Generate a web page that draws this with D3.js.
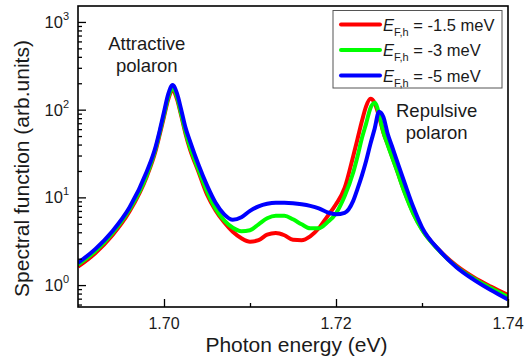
<!DOCTYPE html>
<html>
<head>
<meta charset="utf-8">
<script src="https://cdn.jsdelivr.net/npm/d3@7"></script>
<style>
	body { margin: 0; background: #fff; }
	text { font-family: "Liberation Sans", Arial, sans-serif; fill: #1a1a1a; }
</style>
</head>
<body>
<div id="svg-div"></div>
<script>
// photon energy grid (eV)
var energy = [1.690, 1.692, 1.694, 1.696, 1.698, 1.699, 1.6995, 1.700, 1.7005, 1.701,
	1.7015, 1.702, 1.7025, 1.703, 1.704, 1.705, 1.706, 1.707, 1.708, 1.709,
	1.710, 1.711, 1.712, 1.713, 1.714, 1.715, 1.716, 1.717, 1.718, 1.719,
	1.720, 1.721, 1.722, 1.7225, 1.723, 1.7235, 1.724, 1.7245, 1.725, 1.7255,
	1.726, 1.7265, 1.727, 1.728, 1.729, 1.730, 1.732, 1.734, 1.736, 1.738, 1.740];

// spectral function (arb. units), E_F,h = -1.5 meV
var specRed = [1.62, 2.31, 3.70, 6.93, 17.3, 33.3, 52.0, 83.2, 132, 164,
	133, 85.5, 53.3, 36.0, 19.7, 10.8, 7.11, 5.20, 4.05, 3.42,
	3.12, 3.25, 3.75, 3.92, 3.70, 3.29, 3.25, 3.60, 4.44, 6.08,
	8.33, 12.8, 29.5, 46.2, 73.1, 109, 133, 119, 83.9, 55.2,
	40.5, 29.6, 21.6, 11.4, 6.58, 4.33, 2.50, 1.67, 1.23, 0.962, 0.770];

// E_F,h = -3 meV
var specGreen = [1.71, 2.43, 3.90, 7.31, 18.0, 35.1, 54.8, 87.7, 139, 173,
	141, 88.9, 56.2, 38.0, 20.8, 11.7, 7.40, 5.48, 4.50, 4.11,
	4.22, 4.93, 5.77, 6.17, 6.17, 5.62, 4.93, 4.44, 4.44, 5.20,
	6.58, 10.3, 19.2, 29.2, 46.8, 69.3, 104, 120, 90.1, 56.2,
	40.0, 29.2, 21.4, 11.2, 6.49, 4.27, 2.47, 1.62, 1.19, 0.924, 0.731];

// E_F,h = -5 meV
var specBlue = [1.79, 2.57, 4.11, 7.70, 19.7, 37.0, 57.7, 94.0, 151, 191,
	154, 100, 62.4, 44.4, 23.7, 13.7, 8.68, 6.41, 5.55, 5.93,
	7.02, 7.90, 8.44, 8.66, 8.66, 8.55, 8.33, 8.00, 7.50, 6.76,
	6.41, 6.67, 9.12, 12.5, 17.6, 26.0, 40.6, 61.0, 94.9, 83.2,
	53.4, 38.5, 27.7, 14.4, 7.70, 4.56, 2.50, 1.60, 1.155, 0.877, 0.684];

var seriesNames = ["-1.5 meV", "-3 meV", "-5 meV"];
var seriesColors = ["#ff0000", "#00ff00", "#0000ff"];
var seriesValues = [specRed, specGreen, specBlue];

var xTickLabels = ["1.70", "1.72", "1.74"];
var xMajorTicks = [1.70, 1.72, 1.74];
var xMinorTicks = [1.71, 1.73];
var yMajorTicks = [1, 10, 100, 1000];

var chartProperties = {
	outerWidth: 524,
	outerHeight: 363,
	margin: { top: 6, right: 16, bottom: 56, left: 78 }
};
chartProperties.width = chartProperties.outerWidth - chartProperties.margin.left - chartProperties.margin.right;
chartProperties.height = chartProperties.outerHeight - chartProperties.margin.top - chartProperties.margin.bottom;

var root = d3.select("#svg-div")
	.append("svg")
	.attr("width", chartProperties.outerWidth)
	.attr("height", chartProperties.outerHeight);

var svg = root.append("g")
	.attr("transform", "translate(" + chartProperties.margin.left + "," + chartProperties.margin.top + ")");

// Scale
var xScale = d3.scaleLinear()
	.domain([1.69, 1.74])
	.range([0, chartProperties.width]);

var yScale = d3.scaleLog()
	.domain([0.5625, 1520])
	.range([chartProperties.height, 0]);

svg.append("clipPath")
	.attr("id", "plot-clip")
	.append("rect")
	.attr("width", chartProperties.width)
	.attr("height", chartProperties.height);

// Curves
var line = d3.line()
	.x(function(d) { return xScale(d.e); })
	.y(function(d) { return yScale(d.v); })
	.curve(d3.curveMonotoneX);

seriesValues.forEach(function(vals, i) {
	var pts = energy.map(function(e, j) { return { e: e, v: vals[j] }; });
	svg.append("path")
		.datum(pts)
		.attr("clip-path", "url(#plot-clip)")
		.attr("fill", "none")
		.attr("stroke", seriesColors[i])
		.attr("stroke-width", 4)
		.attr("stroke-linejoin", "round")
		.attr("d", line);
});

// Axis (ticks pointing inward)
var xAxis = d3.axisBottom(xScale)
	.tickValues(xMajorTicks)
	.tickSize(-8)
	.tickFormat("");
var xMinor = d3.axisBottom(xScale)
	.tickValues(xMinorTicks)
	.tickSize(-4)
	.tickFormat("");

svg.append("g")
	.attr("class", "axis")
	.attr("transform", "translate(0," + chartProperties.height + ")")
	.call(xAxis);
svg.append("g")
	.attr("class", "axis")
	.attr("transform", "translate(0," + chartProperties.height + ")")
	.call(xMinor);

var yMinorTicks = yScale.ticks().filter(function(t) {
	return yMajorTicks.indexOf(t) < 0 && t >= yScale.domain()[0] && t <= yScale.domain()[1];
});

var yAxis = d3.axisLeft(yScale)
	.tickValues(yMajorTicks)
	.tickSize(-8)
	.tickFormat("");
var yMinor = d3.axisLeft(yScale)
	.tickValues(yMinorTicks)
	.tickSize(-4)
	.tickFormat("");

svg.append("g").attr("class", "axis").call(yAxis);
svg.append("g").attr("class", "axis").call(yMinor);

svg.selectAll(".axis path").remove();
svg.selectAll(".axis line")
	.attr("stroke", "#000")
	.attr("stroke-width", 1.3);

// Frame
svg.append("rect")
	.attr("width", chartProperties.width)
	.attr("height", chartProperties.height)
	.attr("fill", "none")
	.attr("stroke", "#000")
	.attr("stroke-width", 1.6);

// Tick labels
svg.selectAll(".xlab")
	.data(xMajorTicks)
	.enter()
	.append("text")
	.attr("class", "xlab")
	.attr("x", function(d) { return xScale(d); })
	.attr("y", chartProperties.height + 22)
	.attr("text-anchor", "middle")
	.style("font-size", "16px")
	.text(function(d, i) { return xTickLabels[i]; });

var ylab = svg.selectAll(".ylab")
	.data(yMajorTicks)
	.enter()
	.append("text")
	.attr("class", "ylab")
	.attr("x", -9)
	.attr("y", function(d) { return yScale(d) + 6; })
	.attr("text-anchor", "end")
	.style("font-size", "16.5px");
ylab.append("tspan").text("10");
ylab.append("tspan")
	.attr("dy", -8)
	.style("font-size", "11px")
	.text(function(d) { return Math.round(Math.log10(d)); });

// Axis titles
svg.append("text")
	.attr("x", xScale(1.7154))
	.attr("y", chartProperties.height + 45)
	.attr("text-anchor", "middle")
	.style("font-size", "21px")
	.text("Photon energy (eV)");

svg.append("text")
	.attr("transform", "translate(-49," + (chartProperties.height / 2 + 12) + ") rotate(-90)")
	.attr("text-anchor", "middle")
	.style("font-size", "21px")
	.text("Spectral function (arb.units)");

// Peak annotations
var annot = [
	{ lines: ["Attractive", "polaron"], e: 1.6980, v: 480 },
	{ lines: ["Repulsive", "polaron"], e: 1.7317, v: 83 }
];
annot.forEach(function(a) {
	a.lines.forEach(function(s, i) {
		svg.append("text")
			.attr("x", xScale(a.e))
			.attr("y", yScale(a.v) + i * 22)
			.attr("text-anchor", "middle")
			.style("font-size", "18.5px")
			.text(s);
	});
});

// Legend
var legend = svg.append("g")
	.attr("transform", "translate(" + (333 - chartProperties.margin.left) + "," + (10.5 - chartProperties.margin.top) + ")");

legend.append("rect")
	.attr("width", 169)
	.attr("height", 77.5)
	.attr("fill", "#fff")
	.attr("stroke", "#555")
	.attr("stroke-width", 1);

seriesNames.forEach(function(name, i) {
	var row = legend.append("g")
		.attr("transform", "translate(0," + (14 + i * 25.5) + ")");
	row.append("line")
		.attr("x1", 8)
		.attr("x2", 47)
		.attr("stroke", seriesColors[i])
		.attr("stroke-width", 4)
		.attr("stroke-linecap", "round");
	var t = row.append("text")
		.attr("x", 50)
		.attr("y", 6)
		.style("font-size", "16.5px");
	t.append("tspan").style("font-style", "italic").text("E");
	t.append("tspan").attr("dy", 5).style("font-size", "11px").text("F,h");
	t.append("tspan").attr("dy", -5).text(" = " + name);
});
</script>
</body>
</html>
